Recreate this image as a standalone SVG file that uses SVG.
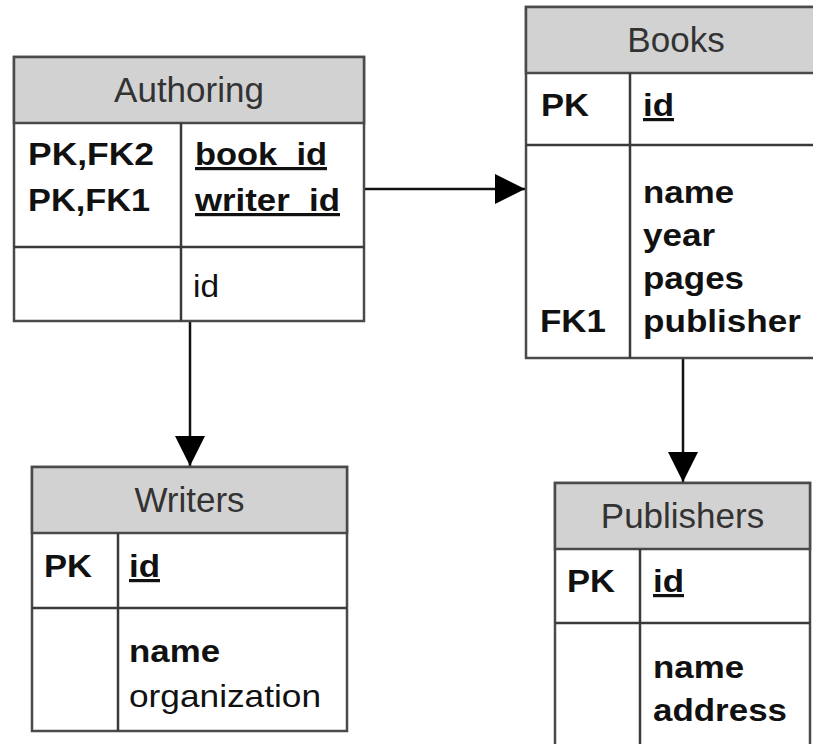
<svg xmlns="http://www.w3.org/2000/svg" width="813" height="744" viewBox="0 0 813 744">
<defs>
<style>
.box{fill:#ffffff;stroke:#4a4a4a;stroke-width:2.5}
.hdr{fill:#d2d2d2;stroke:#4a4a4a;stroke-width:2.5}
.div{stroke:#3a3a3a;stroke-width:2.5;fill:none}
.title{font-family:"Liberation Sans",Arial,sans-serif;font-size:35px;fill:#333333;text-anchor:middle}
.b{font-family:"Liberation Sans",Arial,sans-serif;font-size:32px;font-weight:bold;fill:#111111}
.r{font-family:"Liberation Sans",Arial,sans-serif;font-size:32px;fill:#111111}
.u{text-decoration:underline}
.conn{stroke:#111111;stroke-width:2.5;fill:none}
</style>
<marker id="arrow" markerUnits="userSpaceOnUse" markerWidth="30" markerHeight="30" viewBox="0 0 30 30" refX="30" refY="15" orient="auto">
<path d="M0,0 L30,15 L0,30 Z" fill="#000000"/>
</marker>
</defs>
<rect width="813" height="744" fill="#ffffff"/>

<g id="connectors">
<line class="conn" x1="364" y1="189" x2="525" y2="189" marker-end="url(#arrow)"/>
<line class="conn" x1="190" y1="321" x2="190" y2="466" marker-end="url(#arrow)"/>
<line class="conn" x1="683" y1="358" x2="683" y2="482" marker-end="url(#arrow)"/>
</g>

<g id="authoring">
<rect class="box" x="14" y="57" width="350" height="264"/>
<rect class="hdr" x="14" y="57" width="350" height="66"/>
<line class="div" x1="181" y1="123" x2="181" y2="321"/>
<line class="div" x1="14" y1="247" x2="364" y2="247"/>
<text class="title" x="189" y="102">Authoring</text>
<text class="b" x="28" y="165" textLength="126" lengthAdjust="spacingAndGlyphs">PK,FK2</text>
<text class="b" x="28" y="211" textLength="122" lengthAdjust="spacingAndGlyphs">PK,FK1</text>
<text class="b u" x="195" y="165" textLength="132" lengthAdjust="spacingAndGlyphs">book_id</text>
<text class="b u" x="195" y="211" textLength="145" lengthAdjust="spacingAndGlyphs">writer_id</text>
<text class="r" x="193" y="297" textLength="26" lengthAdjust="spacingAndGlyphs">id</text>
</g>

<g id="books">
<rect class="box" x="526" y="7" width="310" height="351"/>
<rect class="hdr" x="526" y="7" width="310" height="66"/>
<line class="div" x1="630" y1="73" x2="630" y2="358"/>
<line class="div" x1="526" y1="145" x2="836" y2="145"/>
<text class="title" x="676" y="52">Books</text>
<text class="b" x="541" y="116" textLength="48" lengthAdjust="spacingAndGlyphs">PK</text>
<text class="b u" x="643" y="116" textLength="31" lengthAdjust="spacingAndGlyphs">id</text>
<text class="b" x="643" y="203" textLength="91" lengthAdjust="spacingAndGlyphs">name</text>
<text class="b" x="643" y="246" textLength="72" lengthAdjust="spacingAndGlyphs">year</text>
<text class="b" x="643" y="289" textLength="101" lengthAdjust="spacingAndGlyphs">pages</text>
<text class="b" x="540" y="332" textLength="66" lengthAdjust="spacingAndGlyphs">FK1</text>
<text class="b" x="643" y="332" textLength="158" lengthAdjust="spacingAndGlyphs">publisher</text>
</g>

<g id="writers">
<rect class="box" x="32" y="467" width="315" height="264"/>
<rect class="hdr" x="32" y="467" width="315" height="66"/>
<line class="div" x1="118" y1="533" x2="118" y2="731"/>
<line class="div" x1="32" y1="608" x2="347" y2="608"/>
<text class="title" x="189.5" y="512">Writers</text>
<text class="b" x="44" y="577" textLength="48" lengthAdjust="spacingAndGlyphs">PK</text>
<text class="b u" x="129" y="577" textLength="31" lengthAdjust="spacingAndGlyphs">id</text>
<text class="b" x="129" y="662" textLength="91" lengthAdjust="spacingAndGlyphs">name</text>
<text class="r" x="129" y="707" textLength="192" lengthAdjust="spacingAndGlyphs">organization</text>
</g>

<g id="publishers">
<rect class="box" x="555" y="483" width="255" height="290"/>
<rect class="hdr" x="555" y="483" width="255" height="66"/>
<line class="div" x1="640" y1="549" x2="640" y2="773"/>
<line class="div" x1="555" y1="623" x2="810" y2="623"/>
<text class="title" x="682.5" y="528">Publishers</text>
<text class="b" x="567" y="592" textLength="48" lengthAdjust="spacingAndGlyphs">PK</text>
<text class="b u" x="653" y="592" textLength="31" lengthAdjust="spacingAndGlyphs">id</text>
<text class="b" x="653" y="678" textLength="91" lengthAdjust="spacingAndGlyphs">name</text>
<text class="b" x="653" y="721" textLength="134" lengthAdjust="spacingAndGlyphs">address</text>
</g>
</svg>
